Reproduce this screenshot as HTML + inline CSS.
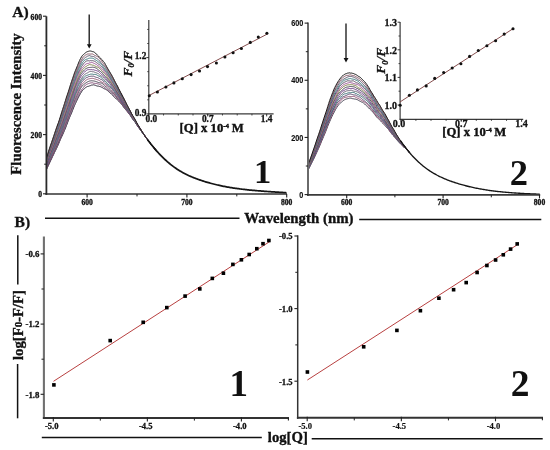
<!DOCTYPE html>
<html><head><meta charset="utf-8"><title>Fluorescence quenching</title>
<style>
html,body{margin:0;padding:0;background:#fff;}
body{width:550px;height:450px;overflow:hidden;font-family:"Liberation Serif", serif;}
svg{display:block;will-change:transform;}
text{fill:#111;}
</style></head>
<body>
<svg width="550" height="450" viewBox="0 0 550 450" shape-rendering="geometricPrecision">
<rect width="550" height="450" fill="#fff"/>
<g>
<polyline points="46.5,169.54 47.5,167.46 48.5,165.29 49.5,163.15 50.5,160.88 51.5,158.95 52.5,156.69 53.5,154.76 54.5,152.54 55.5,150.64 56.5,148.57 57.5,146.46 58.5,144.16 59.5,141.71 60.5,139.31 61.5,137.15 62.5,135.02 63.5,132.81 64.5,130.47 65.5,128.06 66.5,125.54 67.5,122.84 68.5,120.22 69.5,117.66 70.5,115.48 71.5,113.14 72.5,110.63 73.5,107.98 74.5,105.63 75.5,103.44 76.5,101.35 77.5,99.12 78.5,97.13 79.5,95.23 80.5,93.45 81.5,91.82 82.5,90.38 83.5,89.43 84.5,88.58 85.5,87.66 86.5,86.99 87.5,86.47 88.5,86.3 89.5,85.89 90.5,85.6 91.5,85.11 92.5,85.03 93.5,84.81 94.5,85.07 95.5,85.37 96.5,85.79 97.5,86.09 98.5,86.12 99.5,86.49 100.5,86.7 101.5,87.19 102.5,87.7 103.5,88.37 104.5,88.87 105.5,89.2 106.5,89.84 107.5,90.59 108.5,91.55 109.5,92.47 110.5,93.18 111.5,94.19 112.5,94.85 113.5,96.26 114.5,97.25 115.5,98.45 116.5,99.05 117.5,99.93 118.5,100.92 119.5,102.02 120.5,103.04 121.5,104.28 122.5,105.53 123.5,107.02 124.5,108.27 125.5,109.51 126.5,110.67 127.5,111.88 128.5,113.09 129.5,114.46 130.5,115.75 131.5,117.46 132.5,118.94 133.5,120.18 134.5,121.45 135.5,122.64 136.5,124.53 137.5,125.92 138.5,127.48 139.5,128.75 140.5,130.04 141.5,131.41 142.5,132.85 143.5,134.24 144.5,135.61 145.5,136.85 146.5,138.33 147.5,139.71 148.5,141.03 149.5,142.27 150.5,143.55 151.5,145.1 152.5,146.35 153.5,147.57 154.5,148.77 155.5,149.94 156.5,151.08" fill="none" stroke="#2e2a3a" stroke-width="1" stroke-linejoin="round"/>
<polyline points="46.5,168.83 47.5,166.6 48.5,164.58 49.5,162.15 50.5,160.09 51.5,157.82 52.5,155.83 53.5,153.68 54.5,151.43 55.5,149.39 56.5,147.2 57.5,145.2 58.5,143 59.5,140.85 60.5,138.5 61.5,136.04 62.5,133.7 63.5,131.35 64.5,128.92 65.5,126.2 66.5,123.48 67.5,121.06 68.5,118.42 69.5,115.95 70.5,113.22 71.5,110.94 72.5,108.22 73.5,105.84 74.5,103.22 75.5,101.1 76.5,98.99 77.5,96.95 78.5,95.09 79.5,93.03 80.5,91.44 81.5,89.96 82.5,88.73 83.5,87.56 84.5,86.06 85.5,85.05 86.5,84.36 87.5,84 88.5,83.57 89.5,83.27 90.5,82.97 91.5,82.82 92.5,82.79 93.5,83.2 94.5,83.33 95.5,83.42 96.5,83.48 97.5,83.77 98.5,84 99.5,84.39 100.5,84.79 101.5,85.31 102.5,86.04 103.5,86.55 104.5,87.51 105.5,88.16 106.5,89.05 107.5,89.74 108.5,90.42 109.5,91.23 110.5,91.92 111.5,92.73 112.5,93.96 113.5,94.86 114.5,95.79 115.5,96.59 116.5,97.7 117.5,99.16 118.5,100.25 119.5,101.37 120.5,102.19 121.5,103.34 122.5,104.41 123.5,105.75 124.5,107.04 125.5,108.55 126.5,110.02 127.5,111.59 128.5,113.11 129.5,114.28 130.5,115.58 131.5,116.87 132.5,118.39 133.5,119.84 134.5,121.29 135.5,122.9 136.5,124.27 137.5,125.93 138.5,127.28 139.5,128.76 140.5,130.07 141.5,131.37 142.5,132.74 143.5,134.16 144.5,135.53 145.5,137.16 146.5,138.33 147.5,139.61 148.5,140.87 149.5,142.23 150.5,143.55 151.5,145.06 152.5,146.31 153.5,147.53 154.5,148.73 155.5,149.9 156.5,151.04" fill="none" stroke="#84507a" stroke-width="1" stroke-linejoin="round"/>
<polyline points="46.5,168.01 47.5,165.86 48.5,163.8 49.5,161.55 50.5,159.29 51.5,156.89 52.5,154.74 53.5,152.66 54.5,150.52 55.5,148.17 56.5,145.93 57.5,143.83 58.5,141.71 59.5,139.54 60.5,137.15 61.5,134.58 62.5,131.89 63.5,129.16 64.5,126.74 65.5,124.12 66.5,121.67 67.5,119.19 68.5,116.44 69.5,113.88 70.5,111.19 71.5,108.94 72.5,106.27 73.5,103.52 74.5,100.95 75.5,98.66 76.5,96.69 77.5,94.53 78.5,92.34 79.5,90.3 80.5,88.5 81.5,86.96 82.5,85.73 83.5,84.72 84.5,83.95 85.5,83.17 86.5,82.45 87.5,81.9 88.5,81.45 89.5,81.05 90.5,80.88 91.5,80.76 92.5,80.84 93.5,80.93 94.5,81.11 95.5,81.39 96.5,81.73 97.5,82.13 98.5,82.54 99.5,82.77 100.5,82.91 101.5,83.09 102.5,83.58 103.5,84.74 104.5,85.71 105.5,86.52 106.5,87.11 107.5,88.1 108.5,89.08 109.5,89.99 110.5,90.85 111.5,91.74 112.5,92.62 113.5,93.35 114.5,94.44 115.5,95.58 116.5,96.98 117.5,98.23 118.5,99.24 119.5,100.26 120.5,101.44 121.5,102.65 122.5,104.08 123.5,105.3 124.5,106.87 125.5,108.11 126.5,109.56 127.5,110.78 128.5,112.4 129.5,113.78 130.5,115.33 131.5,116.73 132.5,118.36 133.5,119.77 134.5,121.21 135.5,122.39 136.5,124.09 137.5,125.64 138.5,127.13 139.5,128.42 140.5,129.63 141.5,131.15 142.5,132.69 143.5,134.12 144.5,135.49 145.5,136.68 146.5,138.17 147.5,139.48 148.5,140.92 149.5,142.21 150.5,143.55 151.5,145.02 152.5,146.27 153.5,147.49 154.5,148.69 155.5,149.86 156.5,151" fill="none" stroke="#4a4656" stroke-width="1" stroke-linejoin="round"/>
<polyline points="46.5,167.13 47.5,164.79 48.5,162.75 49.5,160.45 50.5,158.28 51.5,156.05 52.5,153.92 53.5,151.65 54.5,149.08 55.5,146.65 56.5,144.21 57.5,142.23 58.5,139.94 59.5,137.84 60.5,135.29 61.5,132.8 62.5,130.27 63.5,127.77 64.5,125.27 65.5,122.62 66.5,119.97 67.5,117.21 68.5,114.54 69.5,111.79 70.5,109.17 71.5,106.58 72.5,103.8 73.5,101.19 74.5,98.68 75.5,96.71 76.5,94.63 77.5,92.39 78.5,90.32 79.5,88.37 80.5,86.65 81.5,84.92 82.5,83.72 83.5,82.73 84.5,81.69 85.5,80.58 86.5,79.9 87.5,79.32 88.5,78.99 89.5,78.71 90.5,78.54 91.5,78.41 92.5,78.35 93.5,78.51 94.5,78.9 95.5,79.1 96.5,79.49 97.5,79.78 98.5,80.14 99.5,80.66 100.5,81.29 101.5,81.94 102.5,82.44 103.5,82.98 104.5,83.93 105.5,84.8 106.5,85.63 107.5,86.23 108.5,87.17 109.5,88.05 110.5,89.3 111.5,90.25 112.5,91.33 113.5,92.43 114.5,93.68 115.5,95.02 116.5,95.97 117.5,97.22 118.5,98.42 119.5,99.79 120.5,101.07 121.5,102.45 122.5,103.75 123.5,105.18 124.5,106.5 125.5,107.91 126.5,109.23 127.5,110.66 128.5,112.31 129.5,113.76 130.5,115.22 131.5,116.55 132.5,118.12 133.5,119.48 134.5,120.84 135.5,122.21 136.5,123.93 137.5,125.62 138.5,127.08 139.5,128.3 140.5,129.42 141.5,130.87 142.5,132.43 143.5,134.06 144.5,135.53 145.5,136.86 146.5,138.26 147.5,139.55 148.5,140.93 149.5,142.23 150.5,143.54 151.5,144.98 152.5,146.23 153.5,147.45 154.5,148.65 155.5,149.82 156.5,150.96" fill="none" stroke="#965878" stroke-width="1" stroke-linejoin="round"/>
<polyline points="46.5,166.42 47.5,164 48.5,161.38 49.5,159.09 50.5,156.79 51.5,154.63 52.5,152.27 53.5,149.85 54.5,147.76 55.5,145.55 56.5,143.26 57.5,140.66 58.5,138.33 59.5,136.15 60.5,133.77 61.5,131.2 62.5,128.61 63.5,125.84 64.5,123.15 65.5,120.58 66.5,118.07 67.5,115.47 68.5,112.56 69.5,109.7 70.5,107.06 71.5,104.48 72.5,102.19 73.5,99.5 74.5,97 75.5,94.34 76.5,92.01 77.5,90.01 78.5,88.14 79.5,86.34 80.5,84.23 81.5,82.54 82.5,81.23 83.5,80.15 84.5,78.95 85.5,78.29 86.5,77.54 87.5,77.33 88.5,76.66 89.5,76.5 90.5,76.32 91.5,76.19 92.5,76.21 93.5,76.19 94.5,76.64 95.5,77.05 96.5,77.4 97.5,77.53 98.5,78.02 99.5,78.49 100.5,79.27 101.5,79.58 102.5,80.32 103.5,81.12 104.5,82.11 105.5,83.07 106.5,84.08 107.5,85.26 108.5,86.12 109.5,86.84 110.5,87.45 111.5,88.58 112.5,89.7 113.5,91.19 114.5,92.16 115.5,93.68 116.5,94.86 117.5,96.17 118.5,97.36 119.5,98.72 120.5,100.3 121.5,101.62 122.5,103 123.5,104.39 124.5,105.78 125.5,107.18 126.5,108.44 127.5,110.07 128.5,111.42 129.5,113.07 130.5,114.39 131.5,116.18 132.5,117.76 133.5,119.32 134.5,120.77 135.5,122.25 136.5,123.96 137.5,125.43 138.5,126.93 139.5,128.29 140.5,129.54 141.5,131.05 142.5,132.58 143.5,134.05 144.5,135.45 145.5,136.85 146.5,138.3 147.5,139.67 148.5,140.99 149.5,142.27 150.5,143.56 151.5,144.94 152.5,146.19 153.5,147.41 154.5,148.61 155.5,149.78 156.5,150.92" fill="none" stroke="#60486e" stroke-width="1" stroke-linejoin="round"/>
<polyline points="46.5,165.31 47.5,162.81 48.5,160.54 49.5,158.41 50.5,156.03 51.5,153.73 52.5,151.11 53.5,149.07 54.5,146.56 55.5,144.28 56.5,141.69 57.5,139.35 58.5,136.96 59.5,134.29 60.5,131.89 61.5,129.46 62.5,127.03 63.5,124.17 64.5,121.45 65.5,118.92 66.5,116.12 67.5,113.22 68.5,110.36 69.5,107.73 70.5,105.1 71.5,102.39 72.5,99.92 73.5,97.45 74.5,95.04 75.5,92.61 76.5,90.1 77.5,87.49 78.5,85.34 79.5,83.52 80.5,82.09 81.5,80.4 82.5,79.2 83.5,77.79 84.5,76.98 85.5,76.01 86.5,75.65 87.5,75.21 88.5,74.82 89.5,74.49 90.5,74.15 91.5,74.12 92.5,74.17 93.5,74.42 94.5,74.41 95.5,74.49 96.5,74.77 97.5,75.4 98.5,75.92 99.5,76.38 100.5,76.92 101.5,77.84 102.5,78.76 103.5,79.74 104.5,80.56 105.5,81.5 106.5,82.51 107.5,83.52 108.5,84.79 109.5,85.7 110.5,86.88 111.5,87.57 112.5,88.79 113.5,89.94 114.5,91.32 115.5,92.64 116.5,93.86 117.5,95.27 118.5,96.35 119.5,97.78 120.5,99.3 121.5,100.94 122.5,102.5 123.5,103.7 124.5,105.01 125.5,106.6 126.5,108.34 127.5,110.13 128.5,111.52 129.5,113.1 130.5,114.52 131.5,116.18 132.5,117.69 133.5,119.2 134.5,120.85 135.5,122.34 136.5,124.07 137.5,125.25 138.5,126.6 139.5,127.94 140.5,129.63 141.5,131.34 142.5,132.84 143.5,134.17 144.5,135.51 145.5,136.84 146.5,138.22 147.5,139.56 148.5,140.91 149.5,142.25 150.5,143.54 151.5,144.9 152.5,146.15 153.5,147.37 154.5,148.57 155.5,149.74 156.5,150.88" fill="none" stroke="#3e7278" stroke-width="1" stroke-linejoin="round"/>
<polyline points="46.5,164.64 47.5,162.35 48.5,159.98 49.5,157.81 50.5,154.95 51.5,152.5 52.5,150 53.5,147.85 54.5,145.35 55.5,142.83 56.5,140.37 57.5,137.99 58.5,135.53 59.5,133.12 60.5,130.59 61.5,128.02 62.5,125.29 63.5,122.64 64.5,119.81 65.5,117.13 66.5,114.26 67.5,111.66 68.5,108.74 69.5,106 70.5,103.12 71.5,100.35 72.5,97.8 73.5,95.24 74.5,92.8 75.5,90.35 76.5,87.9 77.5,85.64 78.5,83.52 79.5,81.89 80.5,80.13 81.5,78.6 82.5,76.96 83.5,75.69 84.5,74.57 85.5,73.88 86.5,73.34 87.5,72.83 88.5,72.19 89.5,71.66 90.5,71.49 91.5,71.42 92.5,71.73 93.5,71.77 94.5,72.19 95.5,72.62 96.5,72.91 97.5,73.35 98.5,73.78 99.5,74.76 100.5,75.48 101.5,76.16 102.5,76.75 103.5,77.83 104.5,78.76 105.5,79.81 106.5,80.67 107.5,81.72 108.5,82.73 109.5,83.63 110.5,84.86 111.5,86.25 112.5,87.76 113.5,88.93 114.5,90.33 115.5,91.48 116.5,92.94 117.5,94.33 118.5,95.94 119.5,97.46 120.5,98.89 121.5,100.29 122.5,101.82 123.5,103.09 124.5,104.61 125.5,106.11 126.5,107.87 127.5,109.39 128.5,110.97 129.5,112.18 130.5,113.66 131.5,115.37 132.5,117.18 133.5,118.94 134.5,120.51 135.5,122.09 136.5,123.7 137.5,125.13 138.5,126.46 139.5,128.02 140.5,129.7 141.5,131.51 142.5,132.86 143.5,134.15 144.5,135.48 145.5,136.95 146.5,138.34 147.5,139.64 148.5,140.93 149.5,142.23 150.5,143.54 151.5,144.86 152.5,146.11 153.5,147.33 154.5,148.53 155.5,149.7 156.5,150.84" fill="none" stroke="#6a6276" stroke-width="1" stroke-linejoin="round"/>
<polyline points="46.5,164.28 47.5,161.8 48.5,158.84 49.5,156.08 50.5,153.43 51.5,151.11 52.5,148.85 53.5,146.77 54.5,144.17 55.5,141.59 56.5,138.86 57.5,136.53 58.5,134.17 59.5,131.51 60.5,128.78 61.5,126.26 62.5,123.67 63.5,120.92 64.5,117.87 65.5,115.01 66.5,112.16 67.5,109.47 68.5,106.66 69.5,103.98 70.5,101.02 71.5,98.44 72.5,95.76 73.5,93.08 74.5,90.06 75.5,87.45 76.5,85.23 77.5,83.37 78.5,81.23 79.5,78.94 80.5,76.98 81.5,75.52 82.5,74.47 83.5,73.2 84.5,72.23 85.5,71.1 86.5,70.39 87.5,69.81 88.5,69.62 89.5,69.59 90.5,69.68 91.5,69.55 92.5,69.77 93.5,69.72 94.5,70.11 95.5,70.4 96.5,70.65 97.5,71.05 98.5,71.42 99.5,72.39 100.5,73.43 101.5,74.46 102.5,75.22 103.5,76.11 104.5,76.92 105.5,78.24 106.5,79.22 107.5,80.53 108.5,81.41 109.5,82.76 110.5,83.73 111.5,85.15 112.5,86.19 113.5,87.68 114.5,88.94 115.5,90.41 116.5,91.87 117.5,93.48 118.5,95.07 119.5,96.55 120.5,98.04 121.5,99.69 122.5,101.31 123.5,102.83 124.5,104.5 125.5,105.91 126.5,107.57 127.5,108.82 128.5,110.79 129.5,112.31 130.5,114.1 131.5,115.62 132.5,117.26 133.5,118.77 134.5,120 135.5,121.59 136.5,123.51 137.5,125.3 138.5,127.07 139.5,128.45 140.5,129.87 141.5,130.99 142.5,132.35 143.5,133.9 144.5,135.42 145.5,136.84 146.5,138.21 147.5,139.56 148.5,140.87 149.5,142.21 150.5,143.54 151.5,144.82 152.5,146.07 153.5,147.29 154.5,148.49 155.5,149.66 156.5,150.8" fill="none" stroke="#74428a" stroke-width="1" stroke-linejoin="round"/>
<polyline points="46.5,163.11 47.5,160.33 48.5,157.53 49.5,155.23 50.5,152.75 51.5,150.43 52.5,147.5 53.5,145.23 54.5,142.68 55.5,140.26 56.5,137.54 57.5,135.01 58.5,132.61 59.5,129.78 60.5,127.21 61.5,124.29 62.5,121.73 63.5,118.82 64.5,116.13 65.5,113.18 66.5,110.33 67.5,107.48 68.5,104.69 69.5,101.85 70.5,99 71.5,96.28 72.5,93.55 73.5,90.82 74.5,88.09 75.5,85.71 76.5,83.15 77.5,80.78 78.5,78.58 79.5,76.57 80.5,74.84 81.5,73.16 82.5,72 83.5,70.87 84.5,69.85 85.5,68.9 86.5,68.36 87.5,67.86 88.5,67.58 89.5,67.48 90.5,67.4 91.5,67.34 92.5,67.18 93.5,67.32 94.5,67.52 95.5,67.9 96.5,68.4 97.5,69.14 98.5,69.97 99.5,70.7 100.5,71.49 101.5,72.14 102.5,73.36 103.5,74.6 104.5,75.78 105.5,76.69 106.5,77.57 107.5,78.87 108.5,79.98 109.5,81.07 110.5,82.39 111.5,83.69 112.5,85.29 113.5,86.49 114.5,87.96 115.5,89.49 116.5,91.26 117.5,92.82 118.5,94.17 119.5,95.55 120.5,97.06 121.5,98.48 122.5,100.04 123.5,101.45 124.5,103.32 125.5,104.91 126.5,106.84 127.5,108.29 128.5,109.93 129.5,111.65 130.5,113.65 131.5,115.51 132.5,117.15 133.5,118.52 134.5,120.12 135.5,121.72 136.5,123.41 137.5,125.08 138.5,126.53 139.5,128.3 140.5,129.59 141.5,131.09 142.5,132.37 143.5,133.77 144.5,135.24 145.5,136.68 146.5,138.06 147.5,139.44 148.5,140.79 149.5,142.19 150.5,143.54 151.5,144.78 152.5,146.03 153.5,147.25 154.5,148.45 155.5,149.62 156.5,150.76" fill="none" stroke="#4e4658" stroke-width="1" stroke-linejoin="round"/>
<polyline points="46.5,162.28 47.5,159.56 48.5,156.96 49.5,154.32 50.5,151.79 51.5,149.24 52.5,146.51 53.5,143.95 54.5,141.17 55.5,138.99 56.5,136.23 57.5,133.77 58.5,131.03 59.5,128.43 60.5,125.59 61.5,122.53 62.5,119.82 63.5,117.19 64.5,114.6 65.5,111.71 66.5,108.7 67.5,105.75 68.5,102.98 69.5,100.05 70.5,97.55 71.5,94.5 72.5,91.96 73.5,89.05 74.5,86.56 75.5,83.89 76.5,81.32 77.5,79.05 78.5,76.54 79.5,74.51 80.5,72.49 81.5,71.1 82.5,69.66 83.5,68.53 84.5,67.67 85.5,66.78 86.5,66.25 87.5,65.46 88.5,65.07 89.5,64.59 90.5,64.75 91.5,64.83 92.5,65.17 93.5,65.3 94.5,65.84 95.5,66.29 96.5,66.83 97.5,67.09 98.5,67.55 99.5,68.19 100.5,69.37 101.5,70.51 102.5,71.52 103.5,72.63 104.5,73.61 105.5,74.65 106.5,75.76 107.5,77.21 108.5,78.77 109.5,79.88 110.5,81.26 111.5,82.61 112.5,84.16 113.5,85.54 114.5,87.12 115.5,88.58 116.5,89.94 117.5,91.55 118.5,92.92 119.5,94.67 120.5,96.23 121.5,98.17 122.5,99.73 123.5,101.39 124.5,103.09 125.5,104.7 126.5,106.38 127.5,108.04 128.5,109.72 129.5,111.32 130.5,113.17 131.5,115.14 132.5,116.86 133.5,118.44 134.5,120.03 135.5,121.93 136.5,123.61 137.5,124.87 138.5,126.25 139.5,127.83 140.5,129.83 141.5,131.28 142.5,132.47 143.5,133.81 144.5,135.26 145.5,136.76 146.5,138.08 147.5,139.53 148.5,140.92 149.5,142.28 150.5,143.55 151.5,144.74 152.5,145.99 153.5,147.21 154.5,148.41 155.5,149.58 156.5,150.72" fill="none" stroke="#80804a" stroke-width="1" stroke-linejoin="round"/>
<polyline points="46.5,161.41 47.5,158.74 48.5,156.12 49.5,153.57 50.5,150.85 51.5,148.18 52.5,145.49 53.5,142.64 54.5,139.97 55.5,137.2 56.5,134.81 57.5,132.08 58.5,129.48 59.5,126.61 60.5,124 61.5,121.27 62.5,118.47 63.5,115.56 64.5,112.6 65.5,109.78 66.5,106.78 67.5,103.81 68.5,100.72 69.5,97.72 70.5,94.83 71.5,92.07 72.5,89.27 73.5,86.68 74.5,83.87 75.5,81.47 76.5,78.87 77.5,76.42 78.5,74.15 79.5,71.9 80.5,70.25 81.5,68.71 82.5,67.7 83.5,66.6 84.5,65.35 85.5,64.28 86.5,63.72 87.5,63.44 88.5,63.36 89.5,62.9 90.5,62.74 91.5,62.42 92.5,62.62 93.5,63.09 94.5,63.5 95.5,64.11 96.5,64.57 97.5,65.41 98.5,66.01 99.5,66.77 100.5,67.81 101.5,68.65 102.5,69.77 103.5,70.79 104.5,72.15 105.5,73.46 106.5,74.21 107.5,75.43 108.5,76.47 109.5,78.17 110.5,79.63 111.5,81.3 112.5,82.75 113.5,84.4 114.5,85.71 115.5,87.5 116.5,88.96 117.5,90.55 118.5,91.86 119.5,93.33 120.5,95.09 121.5,96.99 122.5,99.05 123.5,100.97 124.5,102.52 125.5,103.83 126.5,105.45 127.5,107.18 128.5,109.18 129.5,110.88 130.5,113.09 131.5,114.65 132.5,116.49 133.5,118.12 134.5,119.97 135.5,121.51 136.5,123.13 137.5,124.56 138.5,126.04 139.5,127.27 140.5,129.1 141.5,130.91 142.5,132.52 143.5,134.13 144.5,135.47 145.5,136.88 146.5,138.12 147.5,139.57 148.5,140.93 149.5,142.25 150.5,143.55 151.5,144.7 152.5,145.95 153.5,147.17 154.5,148.37 155.5,149.54 156.5,150.68" fill="none" stroke="#a05898" stroke-width="1" stroke-linejoin="round"/>
<polyline points="46.5,160.83 47.5,157.96 48.5,155.05 49.5,152.04 50.5,149.36 51.5,146.88 52.5,144.33 53.5,141.61 54.5,138.83 55.5,136.28 56.5,133.64 57.5,130.83 58.5,127.9 59.5,125.21 60.5,122.42 61.5,119.58 62.5,116.56 63.5,113.59 64.5,110.79 65.5,107.56 66.5,104.86 67.5,101.71 68.5,98.83 69.5,95.72 70.5,92.63 71.5,89.95 72.5,87.16 73.5,84.51 74.5,81.7 75.5,79.11 76.5,76.61 77.5,74.31 78.5,72.03 79.5,70.26 80.5,68.35 81.5,66.67 82.5,65.2 83.5,63.76 84.5,62.72 85.5,61.56 86.5,61 87.5,60.79 88.5,60.72 89.5,60.92 90.5,60.61 91.5,60.71 92.5,60.67 93.5,60.92 94.5,61.24 95.5,61.8 96.5,62.63 97.5,63.3 98.5,64.1 99.5,64.74 100.5,65.72 101.5,66.53 102.5,67.77 103.5,68.84 104.5,70.21 105.5,71.33 106.5,72.83 107.5,74.26 108.5,75.71 109.5,77.08 110.5,78.56 111.5,80.19 112.5,81.79 113.5,83.5 114.5,85.21 115.5,86.86 116.5,88.21 117.5,89.9 118.5,91.78 119.5,93.6 120.5,95.07 121.5,96.31 122.5,98.2 123.5,99.89 124.5,102.11 125.5,103.51 126.5,105.43 127.5,107.08 128.5,109.11 129.5,110.8 130.5,112.53 131.5,114.28 132.5,116.09 133.5,117.8 134.5,119.51 135.5,121.22 136.5,122.99 137.5,124.65 138.5,126.31 139.5,127.72 140.5,129.42 141.5,130.79 142.5,132.48 143.5,133.6 144.5,135.12 145.5,136.42 146.5,138.09 147.5,139.54 148.5,140.91 149.5,142.22 150.5,143.55 151.5,144.66 152.5,145.91 153.5,147.13 154.5,148.33 155.5,149.5 156.5,150.64" fill="none" stroke="#5e5068" stroke-width="1" stroke-linejoin="round"/>
<polyline points="46.5,160.2 47.5,157.3 48.5,154.07 49.5,151.34 50.5,148.46 51.5,145.83 52.5,143 53.5,140.23 54.5,137.41 55.5,134.45 56.5,131.79 57.5,129.19 58.5,126.56 59.5,123.8 60.5,120.84 61.5,117.92 62.5,114.87 63.5,112.18 64.5,109.19 65.5,106.02 66.5,102.62 67.5,99.75 68.5,96.79 69.5,93.85 70.5,90.74 71.5,87.84 72.5,85.13 73.5,82.47 74.5,79.77 75.5,77.15 76.5,74.33 77.5,71.94 78.5,69.61 79.5,67.69 80.5,65.88 81.5,64.3 82.5,62.67 83.5,61.43 84.5,60.2 85.5,59.65 86.5,59.21 87.5,58.95 88.5,58.4 89.5,58.15 90.5,58.08 91.5,58.13 92.5,58.22 93.5,58.55 94.5,59.25 95.5,59.9 96.5,60.52 97.5,61.19 98.5,62 99.5,62.82 100.5,63.66 101.5,64.68 102.5,65.77 103.5,67.35 104.5,68.68 105.5,70.05 106.5,71.14 107.5,72.53 108.5,73.98 109.5,75.6 110.5,77.17 111.5,78.9 112.5,80.38 113.5,82.08 114.5,83.77 115.5,85.41 116.5,87.11 117.5,88.77 118.5,90.62 119.5,92.31 120.5,93.84 121.5,95.81 122.5,97.56 123.5,99.44 124.5,101.21 125.5,102.93 126.5,105.01 127.5,106.82 128.5,108.93 129.5,110.62 130.5,112.25 131.5,113.76 132.5,115.74 133.5,117.59 134.5,119.5 135.5,121.23 136.5,122.91 137.5,124.6 138.5,126.02 139.5,127.68 140.5,129.16 141.5,130.68 142.5,132.35 143.5,134 144.5,135.26 145.5,136.49 146.5,137.93 147.5,139.48 148.5,140.91 149.5,142.25 150.5,143.54 151.5,144.62 152.5,145.87 153.5,147.09 154.5,148.29 155.5,149.46 156.5,150.6" fill="none" stroke="#3e7c80" stroke-width="1" stroke-linejoin="round"/>
<polyline points="46.5,159.34 47.5,156.36 48.5,153.18 49.5,150.33 50.5,147.66 51.5,144.86 52.5,141.94 53.5,139.11 54.5,136.34 55.5,133.71 56.5,130.7 57.5,127.86 58.5,124.96 59.5,122.15 60.5,119.3 61.5,116.31 62.5,113.07 63.5,110.35 64.5,107.1 65.5,104.3 66.5,100.96 67.5,98.02 68.5,95.02 69.5,91.93 70.5,88.96 71.5,85.85 72.5,82.95 73.5,79.99 74.5,77.15 75.5,74.48 76.5,72.08 77.5,69.78 78.5,67.76 79.5,65.64 80.5,63.66 81.5,61.64 82.5,60.08 83.5,59.01 84.5,58.23 85.5,57.4 86.5,56.85 87.5,56.19 88.5,55.84 89.5,55.58 90.5,56.01 91.5,56.31 92.5,56.4 93.5,56.56 94.5,57.04 95.5,57.83 96.5,58.38 97.5,58.97 98.5,59.73 99.5,60.77 100.5,62.08 101.5,63.42 102.5,64.47 103.5,65.48 104.5,66.55 105.5,67.99 106.5,69.55 107.5,71.11 108.5,72.72 109.5,74.4 110.5,75.96 111.5,77.47 112.5,78.82 113.5,80.43 114.5,82.17 115.5,83.9 116.5,85.87 117.5,87.81 118.5,89.79 119.5,91.43 120.5,93.06 121.5,94.85 122.5,97.03 123.5,98.82 124.5,100.81 125.5,102.56 126.5,104.7 127.5,106.52 128.5,108.4 129.5,110.11 130.5,112.06 131.5,113.98 132.5,115.8 133.5,117.44 134.5,119.06 135.5,121.04 136.5,123.01 137.5,124.76 138.5,126.21 139.5,127.55 140.5,129.08 141.5,130.77 142.5,132.3 143.5,133.79 144.5,135.26 145.5,136.84 146.5,138.18 147.5,139.57 148.5,140.87 149.5,142.23 150.5,143.54 151.5,144.58 152.5,145.83 153.5,147.05 154.5,148.25 155.5,149.42 156.5,150.56" fill="none" stroke="#5e5a6e" stroke-width="1" stroke-linejoin="round"/>
<polyline points="46.5,158.8 47.5,155.88 48.5,152.76 49.5,149.92 50.5,147 51.5,144.21 52.5,141.23 53.5,138.3 54.5,135.38 55.5,132.11 56.5,129.14 57.5,126.07 58.5,123.33 59.5,120.44 60.5,117.38 61.5,114.42 62.5,111.73 63.5,108.82 64.5,105.8 65.5,102.52 66.5,99.3 67.5,96.28 68.5,93.06 69.5,90.19 70.5,86.88 71.5,83.92 72.5,80.8 73.5,77.96 74.5,75.21 75.5,72.4 76.5,70.17 77.5,67.68 78.5,65.6 79.5,63.34 80.5,61.5 81.5,59.52 82.5,58.08 83.5,56.68 84.5,55.92 85.5,55.09 86.5,54.61 87.5,54.03 88.5,53.96 89.5,54.01 90.5,54.07 91.5,53.98 92.5,53.99 93.5,54.53 94.5,55.24 95.5,55.66 96.5,56.14 97.5,56.6 98.5,57.51 99.5,58.38 100.5,59.62 101.5,60.78 102.5,62.38 103.5,63.76 104.5,65.15 105.5,66.3 106.5,67.62 107.5,69.46 108.5,71.09 109.5,72.63 110.5,74.15 111.5,76.02 112.5,77.87 113.5,79.84 114.5,81.63 115.5,83.58 116.5,85.13 117.5,86.95 118.5,88.75 119.5,90.47 120.5,92.4 121.5,94.11 122.5,96.28 123.5,97.99 124.5,100.35 125.5,102.31 126.5,104.51 127.5,106.29 128.5,108.01 129.5,109.54 130.5,111.28 131.5,113.41 132.5,115.53 133.5,117.49 134.5,119.29 135.5,120.88 136.5,122.56 137.5,124.38 138.5,126.16 139.5,127.52 140.5,128.87 141.5,130.47 142.5,132.28 143.5,133.74 144.5,135.27 145.5,136.55 146.5,138.09 147.5,139.56 148.5,141.02 149.5,142.27 150.5,143.55 151.5,144.54 152.5,145.79 153.5,147.01 154.5,148.21 155.5,149.38 156.5,150.52" fill="none" stroke="#8a5a68" stroke-width="1" stroke-linejoin="round"/>
<polyline points="46.5,157.86 47.5,154.81 48.5,151.36 49.5,148.28 50.5,145.25 51.5,142.5 52.5,139.51 53.5,136.61 54.5,133.63 55.5,130.62 56.5,127.78 57.5,124.99 58.5,122.38 59.5,119.29 60.5,116.13 61.5,112.83 62.5,109.57 63.5,106.63 64.5,103.42 65.5,100.31 66.5,97 67.5,94.14 68.5,91.15 69.5,87.93 70.5,84.59 71.5,81.6 72.5,78.72 73.5,75.81 74.5,72.89 75.5,70.29 76.5,68.02 77.5,65.46 78.5,63.02 79.5,60.6 80.5,58.56 81.5,56.84 82.5,55.36 83.5,54.54 84.5,53.62 85.5,52.74 86.5,52.06 87.5,51.59 88.5,51.29 89.5,51.02 90.5,51 91.5,51.24 92.5,51.59 93.5,51.79 94.5,52.37 95.5,53.12 96.5,54.22 97.5,55.22 98.5,56.17 99.5,57.28 100.5,58.15 101.5,59.33 102.5,60.23 103.5,61.65 104.5,62.76 105.5,64.6 106.5,66.39 107.5,68.2 108.5,69.95 109.5,71.43 110.5,73.22 111.5,74.82 112.5,76.59 113.5,78.46 114.5,80.53 115.5,82.42 116.5,84.38 117.5,86.05 118.5,88.3 119.5,90.19 120.5,92.24 121.5,94.06 122.5,96 123.5,97.72 124.5,99.78 125.5,101.55 126.5,103.71 127.5,105.58 128.5,107.59 129.5,109.51 130.5,111.49 131.5,113.49 132.5,115.25 133.5,116.63 134.5,118.34 135.5,120.17 136.5,122.21 137.5,123.94 138.5,125.74 139.5,127.39 140.5,129.1 141.5,130.72 142.5,132.25 143.5,133.75 144.5,135.36 145.5,136.91 146.5,138.25 147.5,139.53 148.5,140.89 149.5,142.28 150.5,143.56 151.5,144.5 152.5,145.75 153.5,146.97 154.5,148.17 155.5,149.34 156.5,150.48" fill="none" stroke="#1a1a1a" stroke-width="1" stroke-linejoin="round"/>
<polyline points="147.5,139.55 148.5,140.91 149.5,142.25 150.5,143.55 151.5,144.82 152.5,146.07 153.5,147.29 154.5,148.49 155.5,149.66 156.5,150.8 157.5,151.92 158.5,153.01 159.5,154.08 160.5,155.12 161.5,156.15 162.5,157.15 163.5,158.13 164.5,159.08 165.5,160.01 166.5,160.92 167.5,161.8 168.5,162.67 169.5,163.51 170.5,164.32 171.5,165.12 172.5,165.89 173.5,166.63 174.5,167.36 175.5,168.06 176.5,168.75 177.5,169.41 178.5,170.05 179.5,170.67 180.5,171.27 181.5,171.86 182.5,172.42 183.5,172.97 184.5,173.5 185.5,174.02 186.5,174.52 187.5,175 188.5,175.47 189.5,175.93 190.5,176.37 191.5,176.8 192.5,177.22 193.5,177.62 194.5,178.02 195.5,178.4 196.5,178.78 197.5,179.15 198.5,179.5 199.5,179.85 200.5,180.19 201.5,180.53 202.5,180.86 203.5,181.18 204.5,181.49 205.5,181.8 206.5,182.1 207.5,182.39 208.5,182.68 209.5,182.96 210.5,183.23 211.5,183.5 212.5,183.77 213.5,184.02 214.5,184.27 215.5,184.52 216.5,184.76 217.5,184.99 218.5,185.22 219.5,185.44 220.5,185.65 221.5,185.87 222.5,186.07 223.5,186.27 224.5,186.47 225.5,186.66 226.5,186.85 227.5,187.03 228.5,187.21 229.5,187.38 230.5,187.55 231.5,187.71 232.5,187.87 233.5,188.03 234.5,188.18 235.5,188.32 236.5,188.47 237.5,188.61 238.5,188.74 239.5,188.88 240.5,189 241.5,189.13 242.5,189.25 243.5,189.37 244.5,189.49 245.5,189.6 246.5,189.71 247.5,189.82 248.5,189.92 249.5,190.02 250.5,190.12 251.5,190.22 252.5,190.31 253.5,190.4 254.5,190.49 255.5,190.58 256.5,190.67 257.5,190.75 258.5,190.83 259.5,190.91 260.5,190.99 261.5,191.07 262.5,191.14 263.5,191.22 264.5,191.29 265.5,191.36 266.5,191.43 267.5,191.5 268.5,191.57 269.5,191.64 270.5,191.7 271.5,191.77 272.5,191.84 273.5,191.9 274.5,191.97 275.5,192.03 276.5,192.1 277.5,192.16 278.5,192.23 279.5,192.29 280.5,192.36 281.5,192.42 282.5,192.49 283.5,192.55 284.5,192.62 285.5,192.69 286.5,192.76" fill="none" stroke="#151515" stroke-width="1.75" stroke-linejoin="round"/>
</g>
<line x1="46.4" y1="16.3" x2="46.4" y2="194.9" stroke="#2a2a2a" stroke-width="1.8"/>
<line x1="45.5" y1="194" x2="287" y2="194" stroke="#333" stroke-width="1.7"/>
<line x1="43" y1="193.8" x2="46.4" y2="193.8" stroke="#222" stroke-width="1.1"/>
<text x="42" y="197.1" font-family='"Liberation Serif", serif' font-size="7.6" font-weight="bold" font-style="normal" text-anchor="end" stroke="#111" stroke-width="0.3" >0</text>
<line x1="43" y1="134.6" x2="46.4" y2="134.6" stroke="#222" stroke-width="1.1"/>
<text x="42" y="137.9" font-family='"Liberation Serif", serif' font-size="7.6" font-weight="bold" font-style="normal" text-anchor="end" stroke="#111" stroke-width="0.3" >200</text>
<line x1="43" y1="75.4" x2="46.4" y2="75.4" stroke="#222" stroke-width="1.1"/>
<text x="42" y="78.7" font-family='"Liberation Serif", serif' font-size="7.6" font-weight="bold" font-style="normal" text-anchor="end" stroke="#111" stroke-width="0.3" >400</text>
<line x1="43" y1="16.2" x2="46.4" y2="16.2" stroke="#222" stroke-width="1.1"/>
<text x="42" y="19.5" font-family='"Liberation Serif", serif' font-size="7.6" font-weight="bold" font-style="normal" text-anchor="end" stroke="#111" stroke-width="0.3" >600</text>
<line x1="44.2" y1="164.2" x2="46.4" y2="164.2" stroke="#222" stroke-width="1"/>
<line x1="44.2" y1="105" x2="46.4" y2="105" stroke="#222" stroke-width="1"/>
<line x1="44.2" y1="45.8" x2="46.4" y2="45.8" stroke="#222" stroke-width="1"/>
<line x1="87.1" y1="194" x2="87.1" y2="197.4" stroke="#222" stroke-width="1.1"/>
<text x="87.1" y="204.9" font-family='"Liberation Serif", serif' font-size="7.6" font-weight="bold" font-style="normal" text-anchor="middle" stroke="#111" stroke-width="0.3" >600</text>
<line x1="186.9" y1="194" x2="186.9" y2="197.4" stroke="#222" stroke-width="1.1"/>
<text x="186.9" y="204.9" font-family='"Liberation Serif", serif' font-size="7.6" font-weight="bold" font-style="normal" text-anchor="middle" stroke="#111" stroke-width="0.3" >700</text>
<line x1="286.7" y1="194" x2="286.7" y2="197.4" stroke="#222" stroke-width="1.1"/>
<text x="286.7" y="204.9" font-family='"Liberation Serif", serif' font-size="7.6" font-weight="bold" font-style="normal" text-anchor="middle" stroke="#111" stroke-width="0.3" >800</text>
<line x1="137" y1="194" x2="137" y2="196.4" stroke="#222" stroke-width="1"/>
<line x1="236.8" y1="194" x2="236.8" y2="196.4" stroke="#222" stroke-width="1"/>
<line x1="89.2" y1="14.4" x2="89.2" y2="45" stroke="#111" stroke-width="1.3"/>
<path d="M86.9,44.2 L91.6,44.2 L89.2,48.4 Z" fill="#111"/>
<g>
<polyline points="307.7,170.85 308.7,169.08 309.7,167.04 310.7,165.03 311.7,163.02 312.7,161.15 313.7,159.16 314.7,156.96 315.7,154.8 316.7,152.58 317.7,150.41 318.7,148.25 319.7,145.96 320.7,143.59 321.7,141.04 322.7,138.8 323.7,136.36 324.7,134.14 325.7,131.61 326.7,129.13 327.7,126.39 328.7,123.91 329.7,121.62 330.7,119.33 331.7,117.02 332.7,114.9 333.7,113.09 334.7,111.19 335.7,109.26 336.7,107.6 337.7,106.04 338.7,104.76 339.7,103.63 340.7,102.78 341.7,102.01 342.7,101.08 343.7,100.34 344.7,99.69 345.7,99.28 346.7,98.91 347.7,98.66 348.7,98.39 349.7,98.11 350.7,98.16 351.7,98.38 352.7,98.71 353.7,98.8 354.7,99.05 355.7,99.15 356.7,99.54 357.7,99.83 358.7,100.48 359.7,101.04 360.7,101.55 361.7,102.08 362.7,102.41 363.7,103.18 364.7,104.02 365.7,105.11 366.7,105.96 367.7,106.95 368.7,107.87 369.7,109 370.7,109.93 371.7,110.85 372.7,111.85 373.7,113.07 374.7,114.48 375.7,115.86 376.7,117.06 377.7,118.22 378.7,118.94 379.7,119.93 380.7,120.91 381.7,122.21 382.7,123.18 383.7,124.25 384.7,125.33 385.7,126.6 386.7,127.52 387.7,128.64 388.7,129.66 389.7,131.15 390.7,132.47 391.7,133.84 392.7,135.07 393.7,136.05 394.7,137.26 395.7,138.42 396.7,139.79 397.7,140.82 398.7,142.03 399.7,143.04 400.7,144.09 401.7,145.07 402.7,146.06 403.7,147.02 404.7,146.8 405.7,148.12 406.7,149.4 407.7,150.65 408.7,151.87 409.7,153.06" fill="none" stroke="#4a4656" stroke-width="1" stroke-linejoin="round"/>
<polyline points="307.7,170.27 308.7,168.22 309.7,166.48 310.7,164.41 311.7,162.4 312.7,160.07 313.7,158.16 314.7,156 315.7,153.64 316.7,151.38 317.7,149.21 318.7,147.26 319.7,144.81 320.7,142.42 321.7,139.64 322.7,137.34 323.7,134.86 324.7,132.84 325.7,130.14 326.7,127.55 327.7,124.74 328.7,122.36 329.7,119.97 330.7,117.52 331.7,115.14 332.7,112.98 333.7,111.13 334.7,109.06 335.7,107.26 336.7,105.54 337.7,104.19 338.7,103.03 339.7,101.82 340.7,100.72 341.7,99.47 342.7,98.62 343.7,97.96 344.7,97.54 345.7,97.31 346.7,97.14 347.7,96.83 348.7,96.57 349.7,96.41 350.7,96.57 351.7,96.6 352.7,96.48 353.7,96.41 354.7,96.66 355.7,97.25 356.7,97.8 357.7,98.23 358.7,98.68 359.7,99.25 360.7,99.84 361.7,100.44 362.7,101.08 363.7,101.66 364.7,102.28 365.7,102.99 366.7,103.91 367.7,104.8 368.7,105.96 369.7,107.09 370.7,108.38 371.7,109.43 372.7,110.66 373.7,112.13 374.7,113.54 375.7,114.79 376.7,115.96 377.7,116.91 378.7,118.14 379.7,119.08 380.7,120.2 381.7,120.96 382.7,121.85 383.7,122.98 384.7,124.15 385.7,125.31 386.7,126.45 387.7,127.82 388.7,129.43 389.7,130.95 390.7,132.48 391.7,133.5 392.7,134.6 393.7,135.68 394.7,136.99 395.7,138.34 396.7,139.47 397.7,140.66 398.7,141.63 399.7,142.75 400.7,143.85 401.7,144.94 402.7,145.91 403.7,146.88 404.7,146.76 405.7,148.08 406.7,149.36 407.7,150.61 408.7,151.83 409.7,153.02" fill="none" stroke="#965878" stroke-width="1" stroke-linejoin="round"/>
<polyline points="307.7,169.88 308.7,168.12 309.7,165.89 310.7,163.72 311.7,161.44 312.7,159.38 313.7,157.6 314.7,155.18 315.7,152.98 316.7,150.55 317.7,148.25 318.7,145.78 319.7,143.49 320.7,141.2 321.7,138.87 322.7,136.02 323.7,133.37 324.7,130.94 325.7,128.48 326.7,126.03 327.7,123.4 328.7,120.98 329.7,118.79 330.7,116.14 331.7,113.72 332.7,111.07 333.7,109.03 334.7,107.19 335.7,105.24 336.7,103.73 337.7,102.16 338.7,101.15 339.7,99.96 340.7,99.04 341.7,97.73 342.7,97.03 343.7,96.37 344.7,96.2 345.7,95.62 346.7,95.27 347.7,94.7 348.7,94.27 349.7,94.04 350.7,94.05 351.7,94.31 352.7,94.64 353.7,94.86 354.7,95.05 355.7,95.13 356.7,95.88 357.7,96.21 358.7,96.9 359.7,97.01 360.7,97.86 361.7,98.55 362.7,99.5 363.7,100.28 364.7,101.05 365.7,101.92 366.7,102.74 367.7,103.45 368.7,104.44 369.7,105.65 370.7,107.11 371.7,108.36 372.7,109.46 373.7,110.71 374.7,111.86 375.7,113.22 376.7,114.37 377.7,115.66 378.7,116.85 379.7,117.82 380.7,118.98 381.7,119.84 382.7,120.99 383.7,122.07 384.7,123.34 385.7,124.62 386.7,125.81 387.7,127.38 388.7,128.61 389.7,130.04 390.7,131.15 391.7,132.69 392.7,134.08 393.7,135.35 394.7,136.56 395.7,137.71 396.7,138.96 397.7,140.17 398.7,141.33 399.7,142.42 400.7,143.53 401.7,144.62 402.7,145.71 403.7,146.74 404.7,146.72 405.7,148.04 406.7,149.32 407.7,150.57 408.7,151.79 409.7,152.98" fill="none" stroke="#60486e" stroke-width="1" stroke-linejoin="round"/>
<polyline points="307.7,169.65 308.7,167.61 309.7,165.64 310.7,163.53 311.7,161.13 312.7,158.86 313.7,156.38 314.7,154.17 315.7,151.76 316.7,149.47 317.7,147.08 318.7,144.55 319.7,142.18 320.7,139.64 321.7,137.46 322.7,134.8 323.7,132.24 324.7,129.38 325.7,126.99 326.7,124.4 327.7,121.92 328.7,119.59 329.7,117.15 330.7,114.54 331.7,111.82 332.7,109.89 333.7,107.89 334.7,105.88 335.7,103.77 336.7,101.89 337.7,100.3 338.7,99 339.7,97.94 340.7,97.11 341.7,96.05 342.7,95.14 343.7,94.12 344.7,93.9 345.7,93.74 346.7,93.5 347.7,93 348.7,92.8 349.7,92.73 350.7,92.71 351.7,92.44 352.7,92.35 353.7,92.54 354.7,92.87 355.7,93.57 356.7,93.81 357.7,94.53 358.7,94.83 359.7,95.46 360.7,95.91 361.7,96.63 362.7,97.35 363.7,98.16 364.7,98.97 365.7,99.82 366.7,100.61 367.7,101.56 368.7,102.52 369.7,103.8 370.7,104.96 371.7,106.29 372.7,107.54 373.7,109 374.7,110.53 375.7,111.88 376.7,113.12 377.7,114.18 378.7,115.31 379.7,116.41 380.7,117.72 381.7,118.86 382.7,119.91 383.7,120.91 384.7,122.19 385.7,123.76 386.7,125.15 387.7,126.66 388.7,127.8 389.7,129.4 390.7,130.63 391.7,132.23 392.7,133.48 393.7,134.61 394.7,136.05 395.7,137.2 396.7,138.71 397.7,139.84 398.7,141.11 399.7,142.28 400.7,143.38 401.7,144.49 402.7,145.55 403.7,146.6 404.7,146.68 405.7,148 406.7,149.28 407.7,150.53 408.7,151.75 409.7,152.94" fill="none" stroke="#3e7278" stroke-width="1" stroke-linejoin="round"/>
<polyline points="307.7,169.35 308.7,167.4 309.7,165.28 310.7,163.04 311.7,160.68 312.7,158.16 313.7,155.92 314.7,153.55 315.7,151.21 316.7,148.63 317.7,146.22 318.7,143.79 319.7,141.32 320.7,138.74 321.7,136.24 322.7,133.55 323.7,130.82 324.7,128.07 325.7,125.72 326.7,123.01 327.7,120.55 328.7,117.87 329.7,115.44 330.7,112.78 331.7,110.25 332.7,108.07 333.7,105.91 334.7,103.98 335.7,101.86 336.7,100.25 337.7,98.65 338.7,97.46 339.7,95.97 340.7,95.15 341.7,94.1 342.7,93.24 343.7,92.37 344.7,91.86 345.7,91.51 346.7,90.88 347.7,90.74 348.7,90.67 349.7,90.63 350.7,90.26 351.7,90.3 352.7,90.76 353.7,91.12 354.7,91.38 355.7,91.37 356.7,91.82 357.7,92.17 358.7,92.76 359.7,93.36 360.7,94.15 361.7,94.97 362.7,95.83 363.7,96.47 364.7,97.2 365.7,97.9 366.7,99.05 367.7,100.11 368.7,101.24 369.7,102.55 370.7,103.77 371.7,105.11 372.7,106.52 373.7,108 374.7,109.48 375.7,110.66 376.7,111.96 377.7,113.15 378.7,114.43 379.7,115.56 380.7,116.93 381.7,118.23 382.7,119.4 383.7,120.29 384.7,121.42 385.7,122.92 386.7,124.4 387.7,125.74 388.7,127.07 389.7,128.69 390.7,130.17 391.7,131.76 392.7,133.13 393.7,134.64 394.7,135.8 395.7,137.06 396.7,138.33 397.7,139.6 398.7,140.76 399.7,141.94 400.7,143.09 401.7,144.31 402.7,145.4 403.7,146.47 404.7,146.64 405.7,147.96 406.7,149.24 407.7,150.49 408.7,151.71 409.7,152.9" fill="none" stroke="#6a6276" stroke-width="1" stroke-linejoin="round"/>
<polyline points="307.7,168.71 308.7,166.44 309.7,164.31 310.7,161.95 311.7,159.7 312.7,157.39 313.7,155.19 314.7,153.19 315.7,150.53 316.7,147.93 317.7,145 318.7,142.75 319.7,140.4 320.7,137.74 321.7,135.05 322.7,132.11 323.7,129.63 324.7,126.92 325.7,124.37 326.7,121.66 327.7,119.17 328.7,116.56 329.7,113.76 330.7,111.05 331.7,108.52 332.7,106.48 333.7,104.32 334.7,102.32 335.7,100.3 336.7,98.54 337.7,96.85 338.7,95.45 339.7,94.16 340.7,92.91 341.7,91.73 342.7,91.03 343.7,90.68 344.7,90.12 345.7,89.57 346.7,89.06 347.7,88.82 348.7,88.57 349.7,88.5 350.7,88.6 351.7,88.45 352.7,88.51 353.7,88.73 354.7,89.18 355.7,89.62 356.7,89.97 357.7,90.7 358.7,91.14 359.7,92.03 360.7,92.28 361.7,93.29 362.7,93.87 363.7,94.89 364.7,95.4 365.7,96.44 366.7,97.35 367.7,98.75 368.7,99.92 369.7,101.4 370.7,102.74 371.7,103.91 372.7,105.25 373.7,106.58 374.7,108.13 375.7,109.53 376.7,110.94 377.7,112.09 378.7,113.1 379.7,114.21 380.7,115.77 381.7,117.09 382.7,118.41 383.7,119.33 384.7,120.86 385.7,122.11 386.7,123.69 387.7,124.91 388.7,126.53 389.7,128.11 390.7,129.81 391.7,131.23 392.7,132.37 393.7,133.69 394.7,134.96 395.7,136.4 396.7,137.66 397.7,139 398.7,140.42 399.7,141.71 400.7,143.04 401.7,144.13 402.7,145.24 403.7,146.33 404.7,146.6 405.7,147.92 406.7,149.2 407.7,150.45 408.7,151.67 409.7,152.86" fill="none" stroke="#74428a" stroke-width="1" stroke-linejoin="round"/>
<polyline points="307.7,168.3 308.7,166.12 309.7,163.84 310.7,161.69 311.7,159.34 312.7,156.91 313.7,154.3 314.7,151.78 315.7,149.45 316.7,146.93 317.7,144.43 318.7,141.77 319.7,139.13 320.7,136.33 321.7,133.71 322.7,131.13 323.7,128.48 324.7,125.68 325.7,122.7 326.7,119.88 327.7,117.08 328.7,114.69 329.7,112.1 330.7,109.57 331.7,106.65 332.7,104.23 333.7,101.97 334.7,100.15 335.7,98.26 336.7,96.36 337.7,94.78 338.7,93.35 339.7,92.55 340.7,91.56 341.7,90.56 342.7,89.47 343.7,88.64 344.7,88.04 345.7,87.48 346.7,87.16 347.7,86.97 348.7,86.92 349.7,86.55 350.7,86.5 351.7,86.57 352.7,86.71 353.7,86.8 354.7,87.12 355.7,87.66 356.7,88.33 357.7,88.67 358.7,89.32 359.7,89.87 360.7,90.58 361.7,91.32 362.7,92.05 363.7,92.88 364.7,93.88 365.7,94.9 366.7,96.1 367.7,96.97 368.7,98.36 369.7,99.27 370.7,100.92 371.7,102.11 372.7,103.83 373.7,105.09 374.7,106.43 375.7,107.78 376.7,109.29 377.7,110.74 378.7,112.26 379.7,113.39 380.7,114.61 381.7,115.82 382.7,117.11 383.7,118.48 384.7,119.83 385.7,121.41 386.7,123.11 387.7,124.57 388.7,125.89 389.7,127.06 390.7,128.52 391.7,129.99 392.7,131.85 393.7,133.34 394.7,134.85 395.7,135.97 396.7,137.44 397.7,138.75 398.7,140.04 399.7,141.33 400.7,142.63 401.7,143.93 402.7,145.05 403.7,146.19 404.7,146.56 405.7,147.88 406.7,149.16 407.7,150.41 408.7,151.63 409.7,152.82" fill="none" stroke="#4e4658" stroke-width="1" stroke-linejoin="round"/>
<polyline points="307.7,167.96 308.7,165.95 309.7,163.61 310.7,161.43 311.7,158.81 312.7,156.32 313.7,153.73 314.7,151.16 315.7,148.61 316.7,146.12 317.7,143.34 318.7,140.53 319.7,137.77 320.7,135.09 321.7,132.48 322.7,129.6 323.7,126.92 324.7,124.14 325.7,121.46 326.7,118.74 327.7,115.8 328.7,113.13 329.7,110.57 330.7,108.18 331.7,105.9 332.7,103.11 333.7,100.74 334.7,98.34 335.7,96.67 336.7,94.97 337.7,93.25 338.7,91.74 339.7,90.26 340.7,89.17 341.7,88.1 342.7,87.32 343.7,86.45 344.7,86 345.7,85.36 346.7,85.18 347.7,84.82 348.7,84.8 349.7,84.79 350.7,84.66 351.7,84.73 352.7,84.75 353.7,85.14 354.7,85.3 355.7,85.73 356.7,86.22 357.7,87.18 358.7,87.92 359.7,88.34 360.7,88.72 361.7,89.49 362.7,90.4 363.7,91.25 364.7,92.15 365.7,93.24 366.7,94.39 367.7,95.56 368.7,96.55 369.7,97.65 370.7,99.05 371.7,100.47 372.7,102.11 373.7,103.35 374.7,105.02 375.7,106.43 376.7,107.96 377.7,109.45 378.7,110.94 379.7,112.22 380.7,113.31 381.7,114.66 382.7,115.73 383.7,116.95 384.7,118.23 385.7,119.92 386.7,121.83 387.7,123.54 388.7,124.98 389.7,126.36 390.7,127.65 391.7,129.53 392.7,131.04 393.7,132.71 394.7,134.07 395.7,135.76 396.7,137.24 397.7,138.53 398.7,139.78 399.7,141.11 400.7,142.37 401.7,143.6 402.7,144.85 403.7,146.05 404.7,146.52 405.7,147.84 406.7,149.12 407.7,150.37 408.7,151.59 409.7,152.78" fill="none" stroke="#80804a" stroke-width="1" stroke-linejoin="round"/>
<polyline points="307.7,167.32 308.7,164.96 309.7,162.72 310.7,160.32 311.7,157.64 312.7,155.17 313.7,152.74 314.7,150.33 315.7,147.59 316.7,144.96 317.7,142.2 318.7,139.69 319.7,136.71 320.7,133.94 321.7,130.97 322.7,128.43 323.7,125.89 324.7,123.01 325.7,120.14 326.7,117.28 327.7,114.43 328.7,111.51 329.7,108.57 330.7,106.28 331.7,103.67 332.7,101.07 333.7,98.45 334.7,96.45 335.7,94.57 336.7,93.01 337.7,91.34 338.7,90.11 339.7,88.6 340.7,87.47 341.7,86.29 342.7,85.49 343.7,84.64 344.7,84.16 345.7,83.64 346.7,83.5 347.7,82.98 348.7,82.82 349.7,82.56 350.7,82.66 351.7,82.98 352.7,83.11 353.7,83.54 354.7,83.71 355.7,84.14 356.7,84.37 357.7,84.7 358.7,85.17 359.7,85.97 360.7,86.85 361.7,87.93 362.7,88.63 363.7,89.42 364.7,90.36 365.7,91.73 366.7,92.98 367.7,94.04 368.7,95.34 369.7,96.61 370.7,98 371.7,99.37 372.7,101.06 373.7,102.55 374.7,104.14 375.7,105.47 376.7,107.1 377.7,108.4 378.7,109.64 379.7,110.96 380.7,112.19 381.7,113.65 382.7,114.88 383.7,116.34 384.7,117.75 385.7,119.25 386.7,120.75 387.7,122.58 388.7,124.28 389.7,125.88 390.7,127.58 391.7,129.24 392.7,130.88 393.7,132.12 394.7,133.58 395.7,135.26 396.7,136.73 397.7,138.1 398.7,139.35 399.7,140.79 400.7,142.19 401.7,143.49 402.7,144.71 403.7,145.9 404.7,146.48 405.7,147.8 406.7,149.08 407.7,150.33 408.7,151.55 409.7,152.74" fill="none" stroke="#a05898" stroke-width="1" stroke-linejoin="round"/>
<polyline points="307.7,166.83 308.7,164.35 309.7,162.11 310.7,159.85 311.7,157.6 312.7,154.82 313.7,152.1 314.7,149.17 315.7,146.58 316.7,144.04 317.7,141.46 318.7,138.64 319.7,135.93 320.7,132.98 321.7,129.96 322.7,127.13 323.7,124.43 324.7,121.75 325.7,118.58 326.7,115.58 327.7,112.83 328.7,110.15 329.7,107.33 330.7,104.38 331.7,101.92 332.7,99.62 333.7,97.33 334.7,95.15 335.7,93.01 336.7,91.51 337.7,89.74 338.7,88.04 339.7,86.35 340.7,85.31 341.7,84.41 342.7,83.4 343.7,82.7 344.7,82.08 345.7,81.66 346.7,81.17 347.7,80.78 348.7,80.84 349.7,80.93 350.7,81.12 351.7,81.03 352.7,80.82 353.7,80.97 354.7,81.67 355.7,82.22 356.7,82.84 357.7,83.06 358.7,83.56 359.7,84.31 360.7,85.08 361.7,86.09 362.7,86.81 363.7,87.76 364.7,88.65 365.7,89.61 366.7,90.76 367.7,92.12 368.7,93.45 369.7,94.79 370.7,96.04 371.7,97.85 372.7,99.47 373.7,100.89 374.7,102.36 375.7,104.09 376.7,106 377.7,107.59 378.7,108.91 379.7,110.26 380.7,111.44 381.7,112.72 382.7,114.07 383.7,115.73 384.7,117.45 385.7,118.95 386.7,120.29 387.7,121.93 388.7,123.68 389.7,125.35 390.7,126.92 391.7,128.54 392.7,130.15 393.7,131.58 394.7,132.99 395.7,134.76 396.7,136.32 397.7,137.92 398.7,139.25 399.7,140.61 400.7,141.91 401.7,143.22 402.7,144.48 403.7,145.76 404.7,146.44 405.7,147.76 406.7,149.04 407.7,150.29 408.7,151.51 409.7,152.7" fill="none" stroke="#5e5068" stroke-width="1" stroke-linejoin="round"/>
<polyline points="307.7,166.77 308.7,164.1 309.7,161.68 310.7,159.08 311.7,156.59 312.7,153.74 313.7,151.18 314.7,148.56 315.7,146.05 316.7,143.31 317.7,140.41 318.7,137.41 319.7,134.25 320.7,131.37 321.7,128.5 322.7,125.87 323.7,123.14 324.7,120.13 325.7,117.14 326.7,114.15 327.7,111.39 328.7,108.61 329.7,105.78 330.7,103.13 331.7,100.3 332.7,97.82 333.7,95.26 334.7,93.11 335.7,91.36 336.7,89.52 337.7,88.04 338.7,86.21 339.7,84.82 340.7,83.63 341.7,82.47 342.7,81.61 343.7,80.7 344.7,80.05 345.7,79.76 346.7,79.31 347.7,79.21 348.7,78.72 349.7,78.66 350.7,78.6 351.7,78.94 352.7,79.07 353.7,79.26 354.7,79.59 355.7,80.05 356.7,80.51 357.7,80.99 358.7,81.69 359.7,82.7 360.7,83.59 361.7,84.53 362.7,85.49 363.7,86.27 364.7,87.27 365.7,88.18 366.7,89.36 367.7,90.53 368.7,91.7 369.7,93.15 370.7,94.46 371.7,96.21 372.7,97.88 373.7,99.45 374.7,101.08 375.7,102.59 376.7,104.45 377.7,106.03 378.7,107.44 379.7,108.76 380.7,110 381.7,111.66 382.7,113.25 383.7,115.01 384.7,116.38 385.7,117.97 386.7,119.46 387.7,121.28 388.7,122.86 389.7,124.49 390.7,126.3 391.7,127.92 392.7,129.73 393.7,131.47 394.7,133.05 395.7,134.51 396.7,135.86 397.7,137.3 398.7,138.81 399.7,140.15 400.7,141.57 401.7,142.94 402.7,144.3 403.7,145.63 404.7,146.4 405.7,147.72 406.7,149 407.7,150.25 408.7,151.47 409.7,152.66" fill="none" stroke="#3e7c80" stroke-width="1" stroke-linejoin="round"/>
<polyline points="307.7,166.3 308.7,163.76 309.7,161.29 310.7,158.59 311.7,156.02 312.7,153.42 313.7,150.58 314.7,147.96 315.7,145.17 316.7,142.27 317.7,139.41 318.7,136.6 319.7,133.82 320.7,130.56 321.7,127.64 322.7,124.63 323.7,121.76 324.7,118.63 325.7,115.55 326.7,112.88 327.7,110.03 328.7,107.39 329.7,104.22 330.7,101.56 331.7,98.42 332.7,95.87 333.7,92.96 334.7,91.08 335.7,89.14 336.7,87.64 337.7,85.74 338.7,84.13 339.7,82.69 340.7,81.68 341.7,80.78 342.7,79.83 343.7,79.12 344.7,78.41 345.7,78.06 346.7,77.46 347.7,76.98 348.7,76.63 349.7,76.49 350.7,76.49 351.7,76.54 352.7,76.9 353.7,77.2 354.7,77.75 355.7,78.11 356.7,78.92 357.7,79.45 358.7,80.19 359.7,80.59 360.7,81.51 361.7,82.54 362.7,83.61 363.7,84.6 364.7,85.73 365.7,86.79 366.7,87.99 367.7,89.02 368.7,90.45 369.7,91.66 370.7,93.19 371.7,94.79 372.7,96.65 373.7,98.27 374.7,99.9 375.7,101.69 376.7,103.36 377.7,105.01 378.7,106.3 379.7,107.62 380.7,109.03 381.7,110.48 382.7,111.93 383.7,113.69 384.7,115.2 385.7,116.96 386.7,118.45 387.7,120.34 388.7,122.27 389.7,124.02 390.7,125.89 391.7,127.61 392.7,129.32 393.7,130.89 394.7,132.41 395.7,133.97 396.7,135.52 397.7,137.03 398.7,138.49 399.7,139.94 400.7,141.4 401.7,142.81 402.7,144.15 403.7,145.49 404.7,146.36 405.7,147.68 406.7,148.96 407.7,150.21 408.7,151.43 409.7,152.62" fill="none" stroke="#5e5a6e" stroke-width="1" stroke-linejoin="round"/>
<polyline points="307.7,166.06 308.7,163.44 309.7,160.86 310.7,158.33 311.7,155.66 312.7,152.98 313.7,150.01 314.7,147.21 315.7,143.99 316.7,141.23 317.7,138.41 318.7,135.55 319.7,132.35 320.7,129.28 321.7,126.29 322.7,123.5 323.7,120.31 324.7,117.36 325.7,114.21 326.7,111.45 327.7,108.43 328.7,105.54 329.7,102.56 330.7,99.82 331.7,97.32 332.7,94.68 333.7,92.18 334.7,89.61 335.7,87.53 336.7,85.43 337.7,83.76 338.7,82.38 339.7,81.17 340.7,79.95 341.7,78.65 342.7,77.62 343.7,76.96 344.7,76.31 345.7,75.79 346.7,75.49 347.7,75.36 348.7,75.27 349.7,74.89 350.7,74.93 351.7,75.24 352.7,75.51 353.7,75.69 354.7,75.91 355.7,76.55 356.7,77.13 357.7,77.73 358.7,78.23 359.7,78.87 360.7,79.72 361.7,80.7 362.7,81.7 363.7,82.58 364.7,83.63 365.7,84.76 366.7,86.12 367.7,87.55 368.7,89.09 369.7,90.7 370.7,91.91 371.7,93.61 372.7,94.98 373.7,96.95 374.7,98.48 375.7,100.38 376.7,101.84 377.7,103.5 378.7,104.76 379.7,106.53 380.7,107.84 381.7,109.83 382.7,111.17 383.7,112.85 384.7,114.19 385.7,116.01 386.7,117.76 387.7,119.53 388.7,121.2 389.7,123.03 390.7,125 391.7,126.8 392.7,128.58 393.7,130.11 394.7,131.82 395.7,133.49 396.7,135.16 397.7,136.66 398.7,138.2 399.7,139.68 400.7,141.2 401.7,142.67 402.7,144.03 403.7,145.35 404.7,146.32 405.7,147.64 406.7,148.92 407.7,150.17 408.7,151.39 409.7,152.58" fill="none" stroke="#8a5a68" stroke-width="1" stroke-linejoin="round"/>
<polyline points="307.7,165.53 308.7,162.87 309.7,160.5 310.7,157.65 311.7,154.83 312.7,151.85 313.7,148.87 314.7,146.14 315.7,143.07 316.7,140.02 317.7,137.06 318.7,134.28 319.7,131.31 320.7,128.24 321.7,125 322.7,122.07 323.7,118.79 324.7,115.96 325.7,112.89 326.7,110.02 327.7,106.65 328.7,103.53 329.7,100.38 330.7,97.72 331.7,95.09 332.7,92.44 333.7,89.95 334.7,87.61 335.7,85.73 336.7,83.83 337.7,82.12 338.7,80.66 339.7,79.08 340.7,77.96 341.7,76.57 342.7,75.83 343.7,74.8 344.7,74.33 345.7,73.77 346.7,73.58 347.7,73.05 348.7,72.99 349.7,72.81 350.7,73.15 351.7,73.07 352.7,73.39 353.7,73.59 354.7,74.13 355.7,74.46 356.7,75.07 357.7,75.8 358.7,76.48 359.7,76.98 360.7,77.7 361.7,78.75 362.7,79.89 363.7,80.89 364.7,81.74 365.7,83.07 366.7,84.25 367.7,85.86 368.7,87.35 369.7,89.2 370.7,90.83 371.7,92.51 372.7,94.02 373.7,95.85 374.7,97.24 375.7,98.81 376.7,100.45 377.7,102.22 378.7,103.81 379.7,105.08 380.7,106.82 381.7,108.64 382.7,110.39 383.7,111.86 384.7,113.39 385.7,115.12 386.7,116.93 387.7,118.85 388.7,120.48 389.7,122.51 390.7,124.31 391.7,126.29 392.7,127.89 393.7,129.36 394.7,131.26 395.7,132.95 396.7,134.81 397.7,136.3 398.7,137.97 399.7,139.48 400.7,141.04 401.7,142.46 402.7,143.85 403.7,145.21 404.7,146.28 405.7,147.6 406.7,148.88 407.7,150.13 408.7,151.35 409.7,152.54" fill="none" stroke="#1a1a1a" stroke-width="1" stroke-linejoin="round"/>
<polyline points="400.7,140.95 401.7,142.4 402.7,143.82 403.7,145.21 404.7,146.56 405.7,147.88 406.7,149.16 407.7,150.41 408.7,151.63 409.7,152.82 410.7,153.98 411.7,155.11 412.7,156.21 413.7,157.27 414.7,158.31 415.7,159.32 416.7,160.31 417.7,161.26 418.7,162.19 419.7,163.1 420.7,163.97 421.7,164.83 422.7,165.66 423.7,166.46 424.7,167.24 425.7,168 426.7,168.74 427.7,169.45 428.7,170.15 429.7,170.82 430.7,171.47 431.7,172.1 432.7,172.72 433.7,173.31 434.7,173.89 435.7,174.45 436.7,175 437.7,175.52 438.7,176.03 439.7,176.53 440.7,177.01 441.7,177.48 442.7,177.93 443.7,178.37 444.7,178.8 445.7,179.22 446.7,179.62 447.7,180.01 448.7,180.4 449.7,180.77 450.7,181.13 451.7,181.49 452.7,181.83 453.7,182.17 454.7,182.51 455.7,182.83 456.7,183.15 457.7,183.46 458.7,183.77 459.7,184.07 460.7,184.36 461.7,184.65 462.7,184.93 463.7,185.2 464.7,185.47 465.7,185.73 466.7,185.99 467.7,186.24 468.7,186.48 469.7,186.72 470.7,186.96 471.7,187.19 472.7,187.41 473.7,187.63 474.7,187.84 475.7,188.05 476.7,188.25 477.7,188.45 478.7,188.64 479.7,188.83 480.7,189.01 481.7,189.19 482.7,189.36 483.7,189.53 484.7,189.7 485.7,189.86 486.7,190.01 487.7,190.17 488.7,190.31 489.7,190.46 490.7,190.6 491.7,190.73 492.7,190.87 493.7,190.99 494.7,191.12 495.7,191.24 496.7,191.36 497.7,191.47 498.7,191.58 499.7,191.69 500.7,191.79 501.7,191.9 502.7,191.99 503.7,192.09 504.7,192.18 505.7,192.27 506.7,192.36 507.7,192.44 508.7,192.52 509.7,192.6 510.7,192.68 511.7,192.75 512.7,192.83 513.7,192.9 514.7,192.96 515.7,193.03 516.7,193.09 517.7,193.16 518.7,193.22 519.7,193.28 520.7,193.33 521.7,193.39 522.7,193.44 523.7,193.49 524.7,193.55 525.7,193.6 526.7,193.64 527.7,193.69 528.7,193.74 529.7,193.78 530.7,193.83 531.7,193.87 532.7,193.92 533.7,193.96 534.7,194 535.7,194.04 536.7,194.09 537.7,194.13 538.7,194.17 539.7,194.21" fill="none" stroke="#151515" stroke-width="1.35" stroke-linejoin="round"/>
</g>
<line x1="308" y1="22.6" x2="308" y2="195.9" stroke="#6a6a6a" stroke-width="2"/>
<line x1="307" y1="194.9" x2="540.2" y2="194.9" stroke="#3a3a3a" stroke-width="1.9"/>
<line x1="304.6" y1="194.6" x2="308" y2="194.6" stroke="#222" stroke-width="1.1"/>
<text transform="translate(303.4,197.8) scale(0.82,1)" font-family='"Liberation Sans", sans-serif' font-size="8.9" font-weight="bold" text-anchor="end" stroke="#111" stroke-width="0.15">0</text>
<line x1="304.6" y1="137.44" x2="308" y2="137.44" stroke="#222" stroke-width="1.1"/>
<text transform="translate(303.4,140.64) scale(0.82,1)" font-family='"Liberation Sans", sans-serif' font-size="8.9" font-weight="bold" text-anchor="end" stroke="#111" stroke-width="0.15">200</text>
<line x1="304.6" y1="80.28" x2="308" y2="80.28" stroke="#222" stroke-width="1.1"/>
<text transform="translate(303.4,83.48) scale(0.82,1)" font-family='"Liberation Sans", sans-serif' font-size="8.9" font-weight="bold" text-anchor="end" stroke="#111" stroke-width="0.15">400</text>
<line x1="304.6" y1="23.12" x2="308" y2="23.12" stroke="#222" stroke-width="1.1"/>
<text transform="translate(303.4,26.32) scale(0.82,1)" font-family='"Liberation Sans", sans-serif' font-size="8.9" font-weight="bold" text-anchor="end" stroke="#111" stroke-width="0.15">600</text>
<line x1="305.8" y1="166.02" x2="308" y2="166.02" stroke="#222" stroke-width="1"/>
<line x1="305.8" y1="108.86" x2="308" y2="108.86" stroke="#222" stroke-width="1"/>
<line x1="305.8" y1="51.7" x2="308" y2="51.7" stroke="#222" stroke-width="1"/>
<line x1="346.7" y1="194.9" x2="346.7" y2="198.3" stroke="#222" stroke-width="1.1"/>
<text x="346.7" y="205.4" font-family='"Liberation Serif", serif' font-size="7.6" font-weight="bold" font-style="normal" text-anchor="middle" stroke="#111" stroke-width="0.3" >600</text>
<line x1="443.1" y1="194.9" x2="443.1" y2="198.3" stroke="#222" stroke-width="1.1"/>
<text x="443.1" y="205.4" font-family='"Liberation Serif", serif' font-size="7.6" font-weight="bold" font-style="normal" text-anchor="middle" stroke="#111" stroke-width="0.3" >700</text>
<line x1="539.5" y1="194.9" x2="539.5" y2="198.3" stroke="#222" stroke-width="1.1"/>
<text x="539.5" y="205.4" font-family='"Liberation Serif", serif' font-size="7.6" font-weight="bold" font-style="normal" text-anchor="middle" stroke="#111" stroke-width="0.3" >800</text>
<line x1="394.9" y1="194.9" x2="394.9" y2="197.3" stroke="#222" stroke-width="1"/>
<line x1="491.3" y1="194.9" x2="491.3" y2="197.3" stroke="#222" stroke-width="1"/>
<line x1="346" y1="23.6" x2="346" y2="59" stroke="#111" stroke-width="1.3"/>
<path d="M343.6,58 L348.5,58 L346,62.5 Z" fill="#111"/>
<line x1="148.8" y1="20" x2="148.8" y2="114.3" stroke="#3a3a3a" stroke-width="1.2"/>
<line x1="148.3" y1="113.9" x2="273.6" y2="113.9" stroke="#3a3a3a" stroke-width="1.2"/>
<line x1="146.3" y1="113.9" x2="148.8" y2="113.9" stroke="#222" stroke-width="0.9"/>
<line x1="146.3" y1="57.59" x2="148.8" y2="57.59" stroke="#222" stroke-width="0.9"/>
<line x1="147.2" y1="99.82" x2="148.8" y2="99.82" stroke="#222" stroke-width="0.8"/>
<line x1="147.2" y1="85.75" x2="148.8" y2="85.75" stroke="#222" stroke-width="0.8"/>
<line x1="147.2" y1="71.67" x2="148.8" y2="71.67" stroke="#222" stroke-width="0.8"/>
<line x1="147.2" y1="43.51" x2="148.8" y2="43.51" stroke="#222" stroke-width="0.8"/>
<line x1="147.2" y1="29.44" x2="148.8" y2="29.44" stroke="#222" stroke-width="0.8"/>
<text x="146.3" y="115.5" font-family='"Liberation Serif", serif' font-size="9.3" font-weight="bold" font-style="normal" text-anchor="end" stroke="#111" stroke-width="0.3" >0.9</text>
<text x="146.3" y="59.19" font-family='"Liberation Serif", serif' font-size="9.3" font-weight="bold" font-style="normal" text-anchor="end" stroke="#111" stroke-width="0.3" >1.2</text>
<line x1="148.8" y1="113.9" x2="148.8" y2="116.4" stroke="#222" stroke-width="0.9"/>
<text x="151.4" y="122" font-family='"Liberation Serif", serif' font-size="9.3" font-weight="bold" font-style="normal" text-anchor="middle" stroke="#111" stroke-width="0.3" >0.0</text>
<line x1="207.74" y1="113.9" x2="207.74" y2="116.4" stroke="#222" stroke-width="0.9"/>
<text x="207.74" y="122" font-family='"Liberation Serif", serif' font-size="9.3" font-weight="bold" font-style="normal" text-anchor="middle" stroke="#111" stroke-width="0.3" >0.7</text>
<line x1="266.68" y1="113.9" x2="266.68" y2="116.4" stroke="#222" stroke-width="0.9"/>
<text x="266.68" y="122" font-family='"Liberation Serif", serif' font-size="9.3" font-weight="bold" font-style="normal" text-anchor="middle" stroke="#111" stroke-width="0.3" >1.4</text>
<line x1="163.54" y1="113.9" x2="163.54" y2="115.5" stroke="#222" stroke-width="0.8"/>
<line x1="178.27" y1="113.9" x2="178.27" y2="115.5" stroke="#222" stroke-width="0.8"/>
<line x1="193" y1="113.9" x2="193" y2="115.5" stroke="#222" stroke-width="0.8"/>
<line x1="207.74" y1="113.9" x2="207.74" y2="115.5" stroke="#222" stroke-width="0.8"/>
<line x1="222.48" y1="113.9" x2="222.48" y2="115.5" stroke="#222" stroke-width="0.8"/>
<line x1="237.21" y1="113.9" x2="237.21" y2="115.5" stroke="#222" stroke-width="0.8"/>
<line x1="251.94" y1="113.9" x2="251.94" y2="115.5" stroke="#222" stroke-width="0.8"/>
<line x1="148.8" y1="95.6" x2="267.6" y2="33.9" stroke="#7e4444" stroke-width="0.95"/>
<circle cx="149.3" cy="95.7" r="1.55" fill="#111"/>
<circle cx="157.4" cy="92" r="1.55" fill="#111"/>
<circle cx="165.9" cy="87" r="1.55" fill="#111"/>
<circle cx="173.9" cy="82.9" r="1.55" fill="#111"/>
<circle cx="182.3" cy="78.7" r="1.55" fill="#111"/>
<circle cx="191.1" cy="74.6" r="1.55" fill="#111"/>
<circle cx="199.5" cy="71" r="1.55" fill="#111"/>
<circle cx="207.5" cy="66.6" r="1.55" fill="#111"/>
<circle cx="216.4" cy="63" r="1.55" fill="#111"/>
<circle cx="224.9" cy="57" r="1.55" fill="#111"/>
<circle cx="233.1" cy="52.7" r="1.55" fill="#111"/>
<circle cx="241.4" cy="48.5" r="1.55" fill="#111"/>
<circle cx="250.3" cy="42.4" r="1.55" fill="#111"/>
<circle cx="258.3" cy="37.1" r="1.55" fill="#111"/>
<circle cx="266.9" cy="33.3" r="1.55" fill="#111"/>
<line x1="400.1" y1="22" x2="400.1" y2="119.7" stroke="#3a3a3a" stroke-width="1.2"/>
<line x1="399.6" y1="119.3" x2="523.2" y2="119.3" stroke="#3a3a3a" stroke-width="1.2"/>
<line x1="397.6" y1="105" x2="400.1" y2="105" stroke="#222" stroke-width="0.9"/>
<line x1="397.6" y1="77.4" x2="400.1" y2="77.4" stroke="#222" stroke-width="0.9"/>
<line x1="397.6" y1="49.8" x2="400.1" y2="49.8" stroke="#222" stroke-width="0.9"/>
<line x1="397.6" y1="22.2" x2="400.1" y2="22.2" stroke="#222" stroke-width="0.9"/>
<line x1="398.5" y1="91.2" x2="400.1" y2="91.2" stroke="#222" stroke-width="0.8"/>
<line x1="398.5" y1="63.6" x2="400.1" y2="63.6" stroke="#222" stroke-width="0.8"/>
<line x1="398.5" y1="36" x2="400.1" y2="36" stroke="#222" stroke-width="0.8"/>
<text x="397" y="108.9" font-family='"Liberation Serif", serif' font-size="10" font-weight="bold" font-style="normal" text-anchor="end" stroke="#111" stroke-width="0.3" >1.0</text>
<text x="397" y="81.3" font-family='"Liberation Serif", serif' font-size="10" font-weight="bold" font-style="normal" text-anchor="end" stroke="#111" stroke-width="0.3" >1.1</text>
<text x="397" y="53.7" font-family='"Liberation Serif", serif' font-size="10" font-weight="bold" font-style="normal" text-anchor="end" stroke="#111" stroke-width="0.3" >1.2</text>
<text x="397" y="26.1" font-family='"Liberation Serif", serif' font-size="10" font-weight="bold" font-style="normal" text-anchor="end" stroke="#111" stroke-width="0.3" >1.3</text>
<line x1="400.8" y1="119.3" x2="400.8" y2="121.8" stroke="#222" stroke-width="0.9"/>
<text x="398.9" y="126.9" font-family='"Liberation Serif", serif' font-size="10" font-weight="bold" font-style="normal" text-anchor="middle" stroke="#111" stroke-width="0.3" >0.0</text>
<line x1="461.21" y1="119.3" x2="461.21" y2="121.8" stroke="#222" stroke-width="0.9"/>
<text x="461.21" y="126.9" font-family='"Liberation Serif", serif' font-size="10" font-weight="bold" font-style="normal" text-anchor="middle" stroke="#111" stroke-width="0.3" >0.7</text>
<line x1="521.62" y1="119.3" x2="521.62" y2="121.8" stroke="#222" stroke-width="0.9"/>
<text x="521.62" y="126.9" font-family='"Liberation Serif", serif' font-size="10" font-weight="bold" font-style="normal" text-anchor="middle" stroke="#111" stroke-width="0.3" >1.4</text>
<line x1="415.9" y1="119.3" x2="415.9" y2="120.9" stroke="#222" stroke-width="0.8"/>
<line x1="431" y1="119.3" x2="431" y2="120.9" stroke="#222" stroke-width="0.8"/>
<line x1="446.11" y1="119.3" x2="446.11" y2="120.9" stroke="#222" stroke-width="0.8"/>
<line x1="461.21" y1="119.3" x2="461.21" y2="120.9" stroke="#222" stroke-width="0.8"/>
<line x1="476.31" y1="119.3" x2="476.31" y2="120.9" stroke="#222" stroke-width="0.8"/>
<line x1="491.42" y1="119.3" x2="491.42" y2="120.9" stroke="#222" stroke-width="0.8"/>
<line x1="506.52" y1="119.3" x2="506.52" y2="120.9" stroke="#222" stroke-width="0.8"/>
<line x1="400.1" y1="101.9" x2="513.8" y2="28.2" stroke="#7e4444" stroke-width="0.95"/>
<circle cx="400.2" cy="105.3" r="1.55" fill="#111"/>
<circle cx="409.4" cy="95.2" r="1.55" fill="#111"/>
<circle cx="417.4" cy="89.9" r="1.55" fill="#111"/>
<circle cx="426.2" cy="85.9" r="1.55" fill="#111"/>
<circle cx="434.7" cy="78.4" r="1.55" fill="#111"/>
<circle cx="443.7" cy="72.6" r="1.55" fill="#111"/>
<circle cx="452.2" cy="68" r="1.55" fill="#111"/>
<circle cx="460.9" cy="63.7" r="1.55" fill="#111"/>
<circle cx="469.6" cy="56.4" r="1.55" fill="#111"/>
<circle cx="478.3" cy="50.5" r="1.55" fill="#111"/>
<circle cx="486.9" cy="45.8" r="1.55" fill="#111"/>
<circle cx="495.6" cy="40.7" r="1.55" fill="#111"/>
<circle cx="504.2" cy="34.1" r="1.55" fill="#111"/>
<circle cx="513" cy="28.7" r="1.55" fill="#111"/>
<text transform="translate(131.8,63.6) rotate(-90)" font-family='"Liberation Serif", serif' font-size="13.5" font-weight="bold" font-style="italic" text-anchor="middle" stroke="#111" stroke-width="0.3">F<tspan font-size="8.37" dy="2.43">0</tspan><tspan dy="-2.43">/F</tspan></text>
<text transform="translate(385.3,60.8) rotate(-90)" font-family='"Liberation Serif", serif' font-size="13.5" font-weight="bold" font-style="italic" text-anchor="middle" stroke="#111" stroke-width="0.3">F<tspan font-size="8.37" dy="2.43">0</tspan><tspan dy="-2.43">/F</tspan></text>
<text x="179.6" y="132.4" font-family='"Liberation Serif", serif' font-size="12.7" font-weight="bold" stroke="#111" stroke-width="0.4">[Q] x 10<tspan font-size="6.99" dy="-4.57">-4</tspan><tspan dx="2.54" dy="4.57">M</tspan></text>
<text x="442.2" y="136.2" font-family='"Liberation Serif", serif' font-size="12.7" font-weight="bold" stroke="#111" stroke-width="0.4">[Q] x 10<tspan font-size="6.99" dy="-4.57">-4</tspan><tspan dx="2.54" dy="4.57">M</tspan></text>
<text x="12.3" y="16.8" font-family='"Liberation Serif", serif' font-size="15.6" font-weight="bold" font-style="normal" text-anchor="start" stroke="#111" stroke-width="0.3" >A)</text>
<text x="14.5" y="226.9" font-family='"Liberation Serif", serif' font-size="15.6" font-weight="bold" font-style="normal" text-anchor="start" stroke="#111" stroke-width="0.3" >B)</text>
<text x="12" y="0" font-family='"Liberation Serif", serif' font-size="1" font-weight="bold" font-style="normal" text-anchor="start" ></text>
<text transform="translate(20.8,104) rotate(-90)" font-family='"Liberation Serif", serif' font-size="14.8" font-weight="bold" text-anchor="middle" stroke="#111" stroke-width="0.35">Fluorescence Intensity</text>
<text x="262.5" y="183.3" font-family='"Liberation Serif", serif' font-size="34.5" font-weight="bold" font-style="normal" text-anchor="middle" >1</text>
<text x="518.8" y="184.6" font-family='"Liberation Serif", serif' font-size="36.5" font-weight="bold" font-style="normal" text-anchor="middle" >2</text>
<text x="238.7" y="395.7" font-family='"Liberation Serif", serif' font-size="37" font-weight="bold" font-style="normal" text-anchor="middle" >1</text>
<text x="520.2" y="396.1" font-family='"Liberation Serif", serif' font-size="37.5" font-weight="bold" font-style="normal" text-anchor="middle" >2</text>
<line x1="45" y1="218.3" x2="239.5" y2="218.3" stroke="#111" stroke-width="1.5"/>
<text x="244.2" y="223" font-family='"Liberation Serif", serif' font-size="14.85" font-weight="bold" font-style="normal" text-anchor="start" stroke="#111" stroke-width="0.35" >Wavelength (nm)</text>
<line x1="359.2" y1="219.6" x2="541.3" y2="219.6" stroke="#111" stroke-width="1.5"/>
<line x1="17.8" y1="235.2" x2="17.8" y2="284.5" stroke="#111" stroke-width="1.5"/>
<text transform="translate(23,325) rotate(-90)" font-family='"Liberation Serif", serif' font-size="14.7" font-weight="bold" text-anchor="middle" stroke="#111" stroke-width="0.35">log[F<tspan font-size="11" dy="-0.6">0</tspan><tspan dy="0.6">-F/F]</tspan></text>
<line x1="17.6" y1="364" x2="17.6" y2="418.3" stroke="#111" stroke-width="1.5"/>
<line x1="41.8" y1="437.5" x2="261.8" y2="437.5" stroke="#111" stroke-width="1.5"/>
<text x="267.8" y="442.3" font-family='"Liberation Serif", serif' font-size="14.7" font-weight="bold" font-style="normal" text-anchor="start" stroke="#111" stroke-width="0.35" >log[Q]</text>
<line x1="311.7" y1="438.8" x2="542.7" y2="438.8" stroke="#111" stroke-width="1.5"/>
<line x1="43.9" y1="236.5" x2="43.9" y2="419" stroke="#707070" stroke-width="2.1"/>
<line x1="42.9" y1="418" x2="289" y2="418" stroke="#333" stroke-width="1.9"/>
<line x1="40.6" y1="253.9" x2="43.9" y2="253.9" stroke="#222" stroke-width="1.1"/>
<text x="39.4" y="257.1" font-family='"Liberation Serif", serif' font-size="8.8" font-weight="bold" font-style="normal" text-anchor="end" stroke="#111" stroke-width="0.3" >-0.6</text>
<line x1="40.6" y1="324.1" x2="43.9" y2="324.1" stroke="#222" stroke-width="1.1"/>
<text x="39.4" y="327.3" font-family='"Liberation Serif", serif' font-size="8.8" font-weight="bold" font-style="normal" text-anchor="end" stroke="#111" stroke-width="0.3" >-1.2</text>
<line x1="40.6" y1="394.3" x2="43.9" y2="394.3" stroke="#222" stroke-width="1.1"/>
<text x="39.4" y="397.5" font-family='"Liberation Serif", serif' font-size="8.8" font-weight="bold" font-style="normal" text-anchor="end" stroke="#111" stroke-width="0.3" >-1.8</text>
<line x1="41.5" y1="289" x2="43.9" y2="289" stroke="#222" stroke-width="1"/>
<line x1="41.5" y1="359.2" x2="43.9" y2="359.2" stroke="#222" stroke-width="1"/>
<line x1="53.3" y1="417" x2="53.3" y2="421.5" stroke="#222" stroke-width="1.1"/>
<text x="51.7" y="429" font-family='"Liberation Serif", serif' font-size="8.6" font-weight="bold" font-style="normal" text-anchor="middle" stroke="#111" stroke-width="0.3" >-5.0</text>
<line x1="147.35" y1="417" x2="147.35" y2="421.5" stroke="#222" stroke-width="1.1"/>
<text x="145.75" y="429" font-family='"Liberation Serif", serif' font-size="8.6" font-weight="bold" font-style="normal" text-anchor="middle" stroke="#111" stroke-width="0.3" >-4.5</text>
<line x1="241.4" y1="417" x2="241.4" y2="421.5" stroke="#222" stroke-width="1.1"/>
<text x="239.8" y="429" font-family='"Liberation Serif", serif' font-size="8.6" font-weight="bold" font-style="normal" text-anchor="middle" stroke="#111" stroke-width="0.3" >-4.0</text>
<line x1="100.32" y1="418" x2="100.32" y2="420.6" stroke="#222" stroke-width="1"/>
<line x1="194.38" y1="418" x2="194.38" y2="420.6" stroke="#222" stroke-width="1"/>
<line x1="288.4" y1="418" x2="288.4" y2="420.4" stroke="#222" stroke-width="1.1"/>
<line x1="53.5" y1="381.3" x2="270" y2="241.4" stroke="#b84040" stroke-width="1"/>
<rect x="52.1" y="383.1" width="3.6" height="3.6" fill="#000"/>
<rect x="108.4" y="338.8" width="3.6" height="3.6" fill="#000"/>
<rect x="141.4" y="320.5" width="3.6" height="3.6" fill="#000"/>
<rect x="165" y="305.8" width="3.6" height="3.6" fill="#000"/>
<rect x="183.3" y="294.3" width="3.6" height="3.6" fill="#000"/>
<rect x="198" y="287.1" width="3.6" height="3.6" fill="#000"/>
<rect x="210.5" y="276.6" width="3.6" height="3.6" fill="#000"/>
<rect x="221.6" y="271.4" width="3.6" height="3.6" fill="#000"/>
<rect x="231.1" y="262.6" width="3.6" height="3.6" fill="#000"/>
<rect x="239.6" y="258" width="3.6" height="3.6" fill="#000"/>
<rect x="247.4" y="252.7" width="3.6" height="3.6" fill="#000"/>
<rect x="255" y="246.9" width="3.6" height="3.6" fill="#000"/>
<rect x="261.2" y="241.9" width="3.6" height="3.6" fill="#000"/>
<rect x="267.1" y="238.7" width="3.6" height="3.6" fill="#000"/>
<line x1="297.7" y1="235.3" x2="297.7" y2="418.8" stroke="#333" stroke-width="1.5"/>
<line x1="296.9" y1="417.8" x2="543" y2="417.8" stroke="#333" stroke-width="1.9"/>
<line x1="294.4" y1="236" x2="297.7" y2="236" stroke="#222" stroke-width="1.1"/>
<text x="292.6" y="239.3" font-family='"Liberation Serif", serif' font-size="8.6" font-weight="bold" font-style="normal" text-anchor="end" stroke="#111" stroke-width="0.3" >-0.5</text>
<line x1="294.4" y1="308.6" x2="297.7" y2="308.6" stroke="#222" stroke-width="1.1"/>
<text x="292.6" y="311.9" font-family='"Liberation Serif", serif' font-size="8.6" font-weight="bold" font-style="normal" text-anchor="end" stroke="#111" stroke-width="0.3" >-1.0</text>
<line x1="294.4" y1="381.2" x2="297.7" y2="381.2" stroke="#222" stroke-width="1.1"/>
<text x="292.6" y="384.5" font-family='"Liberation Serif", serif' font-size="8.6" font-weight="bold" font-style="normal" text-anchor="end" stroke="#111" stroke-width="0.3" >-1.5</text>
<line x1="295.3" y1="272.3" x2="297.7" y2="272.3" stroke="#222" stroke-width="1"/>
<line x1="295.3" y1="344.9" x2="297.7" y2="344.9" stroke="#222" stroke-width="1"/>
<line x1="307.2" y1="416.8" x2="307.2" y2="421.3" stroke="#222" stroke-width="1.1"/>
<text x="305.2" y="429.3" font-family='"Liberation Serif", serif' font-size="8.6" font-weight="bold" font-style="normal" text-anchor="middle" stroke="#111" stroke-width="0.15" >-5.0</text>
<line x1="401.35" y1="416.8" x2="401.35" y2="421.3" stroke="#222" stroke-width="1.1"/>
<text x="399.35" y="429.3" font-family='"Liberation Serif", serif' font-size="8.6" font-weight="bold" font-style="normal" text-anchor="middle" stroke="#111" stroke-width="0.15" >-4.5</text>
<line x1="495.5" y1="416.8" x2="495.5" y2="421.3" stroke="#222" stroke-width="1.1"/>
<text x="493.5" y="429.3" font-family='"Liberation Serif", serif' font-size="8.6" font-weight="bold" font-style="normal" text-anchor="middle" stroke="#111" stroke-width="0.15" >-4.0</text>
<line x1="354.27" y1="417.8" x2="354.27" y2="420.4" stroke="#222" stroke-width="1"/>
<line x1="448.43" y1="417.8" x2="448.43" y2="420.4" stroke="#222" stroke-width="1"/>
<line x1="542.4" y1="417.8" x2="542.4" y2="420.2" stroke="#222" stroke-width="1.1"/>
<line x1="307.4" y1="380" x2="517.7" y2="244.5" stroke="#b84040" stroke-width="1"/>
<rect x="305.6" y="370.2" width="3.6" height="3.6" fill="#000"/>
<rect x="361.9" y="345" width="3.6" height="3.6" fill="#000"/>
<rect x="395.1" y="328.6" width="3.6" height="3.6" fill="#000"/>
<rect x="418.6" y="308.9" width="3.6" height="3.6" fill="#000"/>
<rect x="437.1" y="296.4" width="3.6" height="3.6" fill="#000"/>
<rect x="451.8" y="287.9" width="3.6" height="3.6" fill="#000"/>
<rect x="464.4" y="280.8" width="3.6" height="3.6" fill="#000"/>
<rect x="475.3" y="270.7" width="3.6" height="3.6" fill="#000"/>
<rect x="485.1" y="263.7" width="3.6" height="3.6" fill="#000"/>
<rect x="493.8" y="258.2" width="3.6" height="3.6" fill="#000"/>
<rect x="501.5" y="253" width="3.6" height="3.6" fill="#000"/>
<rect x="508.8" y="247.3" width="3.6" height="3.6" fill="#000"/>
<rect x="515.4" y="242.1" width="3.6" height="3.6" fill="#000"/>
</svg>
</body></html>
